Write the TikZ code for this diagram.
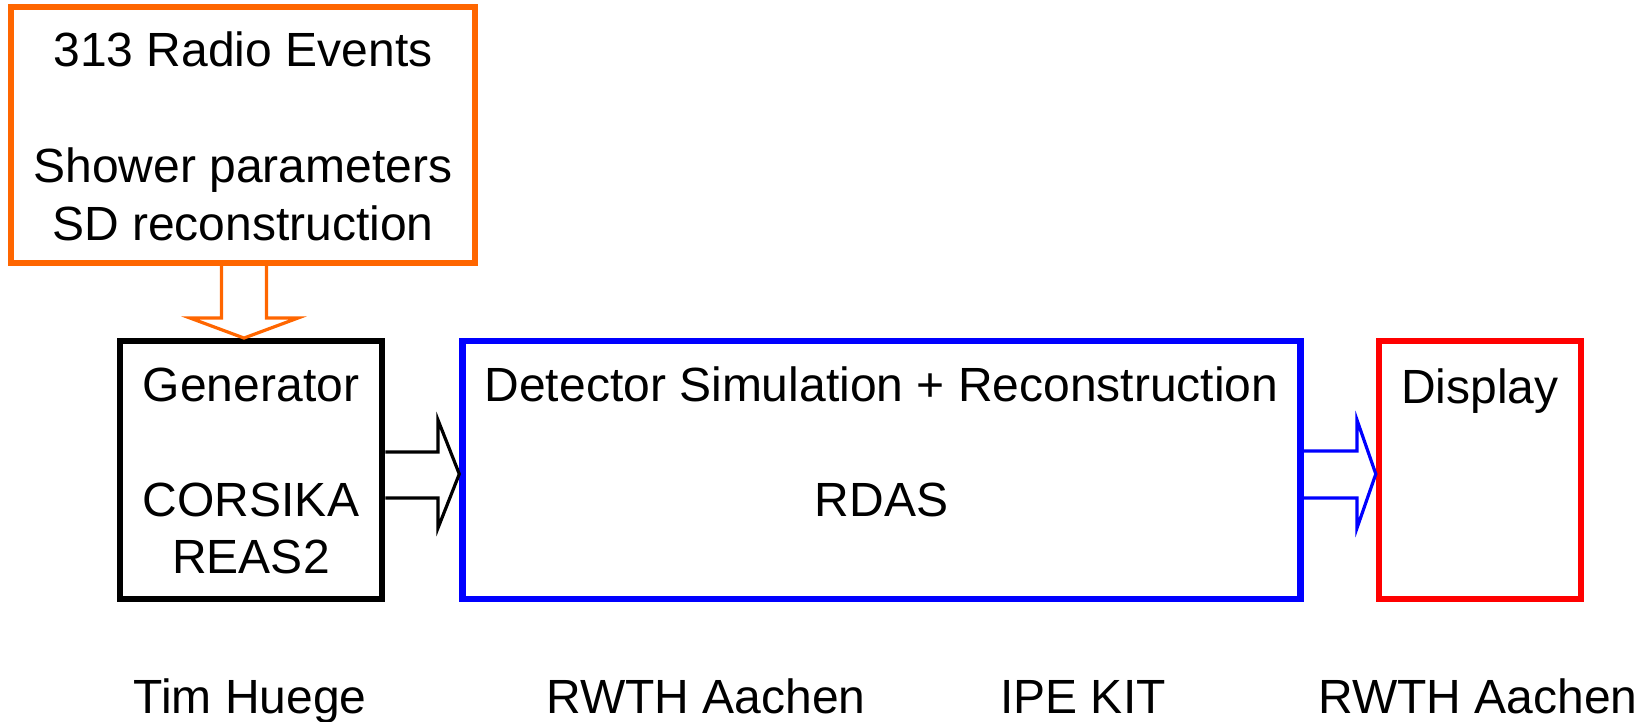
\documentclass[tikz,border=0pt]{standalone}
\usepackage{fontspec}
\setmainfont{Liberation Sans}
\usetikzlibrary{calc}
\definecolor{evtorange}{RGB}{255,102,0}

\tikzset{
	box/.style={draw, line width=3.2pt, inner sep=0pt, fill=none},
	lbl/.style={anchor=base, inner sep=0pt, font=\fontsize{24}{28}\selectfont},
	blockarrow/.style={line width=1.6pt, miter limit=20},
}

\begin{document}
\begin{tikzpicture}[x=0.5pt, y=-0.5pt]
		\useasboundingbox (0,0) rectangle (1649,722);

		\node[box, draw=evtorange, minimum width=232pt, minimum height=128pt] (evts) at (243,135) {};
		\node[box, draw=black, minimum width=131.25pt, minimum height=128.75pt] (gen) at (251,470) {};
		\node[box, draw=blue, minimum width=419pt, minimum height=128.75pt] (det) at (881.5,470) {};
		\node[box, draw=red, minimum width=101pt, minimum height=128.75pt] (disp) at (1480,470) {};

		\node[lbl] (evts1) at (243,66.7) {313 Radio Events};
		\node[lbl] (evts2) at (243,183) {Shower parameters};
		\node[lbl] (evts3) at (243,240) {SD reconstruction};

		\node[lbl] (gen1) at (251,401.7) {Generator};
		\node[lbl] (gen2) at (251,516.7) {CORSIKA};
		\node[lbl] (gen3) at (251,573) {REAS2};

		\node[lbl] (det1) at (881.5,401.7) {Detector Simulation + Reconstruction};
		\node[lbl] (det2) at (881.5,516.7) {RDAS};

		\node[lbl] (disp1) at (1480,403) {Display};

		\node[lbl] (who1) at (250,713) {Tim Huege};
		\node[lbl] (who2) at (706,713) {RWTH Aachen};
		\node[lbl] (who3) at (1083,713) {IPE KIT};
		\node[lbl] (who4) at (1478,713) {RWTH Aachen};

		% block arrows between the boxes
		\draw[blockarrow, evtorange] (evts.south -| 221.5,0) -- (221.5,318) -- (190,318)
			-- (gen.north -| 244,0) -- (298,318) -- (266.5,318) -- (evts.south -| 266.5,0);
		\draw[blockarrow, black] (gen.east |- 0,452) -- (438,452) -- (438,420)
			-- (det.west |- 0,474) -- (438,528) -- (438,498) -- (gen.east |- 0,498);
		\draw[blockarrow, blue] (det.east |- 0,451) -- (1357,451) -- (1357,420)
			-- (disp.west |- 0,474) -- (1357,528) -- (1357,498) -- (det.east |- 0,498);
	\end{tikzpicture}
\end{document}
